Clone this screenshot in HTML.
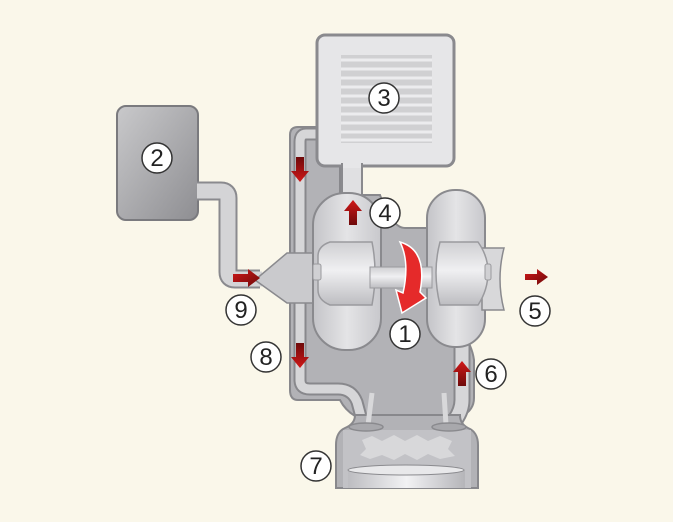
<!DOCTYPE html>
<html><head><meta charset="utf-8"><style>
html,body{margin:0;padding:0;background:#faf7ea;}
svg{display:block;}
text{font-family:"Liberation Sans",sans-serif;font-size:24px;fill:#222;text-anchor:middle;}
</style></head><body>
<svg width="673" height="522" viewBox="0 0 673 522" xmlns="http://www.w3.org/2000/svg">
<defs>
<linearGradient id="g2" x1="0" y1="0" x2="1" y2="1"><stop offset="0" stop-color="#c9c9cb"/><stop offset="1" stop-color="#8e8e92"/></linearGradient>
<linearGradient id="lobe" x1="0" y1="0" x2="1" y2="0"><stop offset="0" stop-color="#c4c4c8"/><stop offset="0.5" stop-color="#e4e4e6"/><stop offset="1" stop-color="#c8c8cc"/></linearGradient>
<linearGradient id="wheel" x1="0" y1="0" x2="0" y2="1"><stop offset="0" stop-color="#cfcfd2"/><stop offset="0.45" stop-color="#f0f0f2"/><stop offset="1" stop-color="#bdbdc1"/></linearGradient>
<linearGradient id="pist" x1="0" y1="0" x2="1" y2="0"><stop offset="0" stop-color="#bdbdc1"/><stop offset="0.5" stop-color="#f2f2f4"/><stop offset="1" stop-color="#b5b5b9"/></linearGradient>
<linearGradient id="red" x1="0" y1="0" x2="1" y2="1"><stop offset="0" stop-color="#d01818"/><stop offset="1" stop-color="#6e0a0a"/></linearGradient>
<linearGradient id="redv" x1="0" y1="0" x2="0" y2="1"><stop offset="0" stop-color="#6e0a0a"/><stop offset="1" stop-color="#d01818"/></linearGradient>
<linearGradient id="redu" x1="0" y1="0" x2="0" y2="1"><stop offset="0" stop-color="#d01818"/><stop offset="1" stop-color="#6e0a0a"/></linearGradient>
</defs>

<rect x="117" y="106" width="81" height="114" rx="9" fill="url(#g2)" stroke="#7a7a7e" stroke-width="2"/>
<path d="M197,191 H221 Q228,191 228,198 V272 Q228,279 235,279 H260" fill="none" stroke="#8a8a8e" stroke-width="19"/>
<path d="M197,191 H221 Q228,191 228,198 V272 Q228,279 235,279 H262" fill="none" stroke="#d4d4d6" stroke-width="15"/>

<path d="M290,135 Q290,127 298,127 H340 V195 H380 Q392,228 405,228 H430 V300 Q470,330 474,360 V398 Q474,410 462,416 H355 Q345,410 340,400 H298 Q290,400 290,390 Z" fill="#b2b2b6" stroke="#88888c" stroke-width="2"/>
<path d="M330,134 H306 Q300,134 300,142 V380 Q300,389 310,389 H338 Q352,389 357,402 L364,428" fill="none" stroke="#88888c" stroke-width="13"/>
<path d="M330,134 H306 Q300,134 300,142 V380 Q300,389 310,389 H338 Q352,389 357,402 L364,428" fill="none" stroke="#d6d6d8" stroke-width="9"/>
<path d="M462,345 V400 Q462,410 455,420 L450,428" fill="none" stroke="#88888c" stroke-width="17"/>
<path d="M462,345 V400 Q462,410 455,420 L450,428" fill="none" stroke="#d6d6d8" stroke-width="13"/>

<rect x="317" y="35" width="137" height="131" rx="8" fill="#e6e6e8" stroke="#8a8a8e" stroke-width="3"/>
<rect x="341" y="55" width="91" height="88" fill="#d0d0d2"/>
<g stroke="#ececee" stroke-width="3">
<line x1="341" y1="60" x2="432" y2="60"/><line x1="341" y1="69" x2="432" y2="69"/><line x1="341" y1="78" x2="432" y2="78"/><line x1="341" y1="87" x2="432" y2="87"/><line x1="341" y1="96" x2="432" y2="96"/><line x1="341" y1="105" x2="432" y2="105"/><line x1="341" y1="114" x2="432" y2="114"/><line x1="341" y1="123" x2="432" y2="123"/><line x1="341" y1="132" x2="432" y2="132"/><line x1="341" y1="140" x2="432" y2="140"/>
</g>
<rect x="342" y="164" width="20" height="36" fill="#e0e0e2" stroke="#8a8a8e" stroke-width="2"/>
<rect x="343" y="162" width="18" height="6" fill="#e6e6e8"/>

<path d="M255,280 L287,253 H318 V303 H287 Z" fill="#cacacd" stroke="#8a8a8e" stroke-width="1.5"/>

<rect x="313" y="193" width="68" height="157" rx="32" fill="url(#lobe)" stroke="#8a8a8e" stroke-width="2"/>
<rect x="427" y="190" width="58" height="157" rx="28" fill="url(#lobe)" stroke="#8a8a8e" stroke-width="2"/>
<path d="M482,248 H504 Q496,279 504,310 H482 Z" fill="#d8d8da" stroke="#8a8a8e" stroke-width="1.5"/>
<path d="M330,242 H372 Q378,272 372,305 H330 Q318,300 318,290 V256 Q318,246 330,242 Z" fill="url(#wheel)" stroke="#9a9a9e" stroke-width="1.5"/>
<path d="M440,242 H478 Q488,256 488,272 Q488,290 478,305 H440 Q432,272 440,242 Z" fill="url(#wheel)" stroke="#9a9a9e" stroke-width="1.5"/>
<rect x="370" y="267" width="62" height="21" fill="url(#wheel)" stroke="#9a9a9e" stroke-width="1"/>
<rect x="313" y="264" width="8" height="16" rx="2" fill="#d0d0d3" stroke="#9a9a9e"/>
<rect x="485" y="264" width="6" height="16" rx="2" fill="#d0d0d3" stroke="#9a9a9e"/>

<path d="M355,415 Q355,424 345,428 Q336,432 336,445 V488 H478 V445 Q478,432 468,428 Q460,424 460,415 Z" fill="#b2b2b6" stroke="#88888c" stroke-width="2"/>
<rect x="343" y="430" width="128" height="58" fill="#c2c2c6"/>
<path d="M362,440 L372,436 L382,441 L394,435 L405,441 L417,435 L428,441 L440,436 L452,441 L448,449 L455,456 L440,459 L428,454 L417,460 L405,454 L394,460 L382,455 L370,459 L360,455 L366,449 Z" fill="#d8d8da"/>
<rect x="348" y="470" width="117" height="18" fill="url(#pist)"/>
<ellipse cx="406" cy="470" rx="58" ry="5" fill="#e8e8ea" stroke="#8a8a8e"/>
<g stroke="#8a8a8e" stroke-width="1.5">
<line x1="372" y1="393" x2="368" y2="425" stroke="#d8d8da" stroke-width="5"/>
<line x1="444" y1="393" x2="446" y2="425" stroke="#d8d8da" stroke-width="5"/>
<ellipse cx="366" cy="427" rx="17" ry="4" fill="#a8a8ac"/>
<ellipse cx="449" cy="427" rx="17" ry="4" fill="#a8a8ac"/>
</g>

<path d="M400,242 Q428,250 420,292 L426,298 L402,313 L396,290 L403,293 Q410,262 400,242 Z" fill="#e52a2a" stroke="#fff" stroke-width="1.5"/>

<path d="M296,157 h8 v14 h5 l-9,11 l-9,-11 h5 z" fill="url(#redv)"/>
<path d="M296,343 h8 v14 h5 l-9,11 l-9,-11 h5 z" fill="url(#redv)"/>
<path d="M349,225 h8 v-14 h5 l-9,-11 l-9,11 h5 z" fill="url(#redu)"/>
<path d="M458,386 h8 v-14 h5 l-9,-11 l-9,11 h5 z" fill="url(#redu)"/>
<path d="M233,274 h15 v-5 l12,9 l-12,9 v-5 h-15 z" fill="url(#red)"/>
<path d="M525,274 h12 v-5 l11,8 l-11,8 v-5 h-12 z" fill="url(#red)"/>

<g fill="#fff" stroke="#333" stroke-width="1.5">
<circle cx="405" cy="334" r="15"/><circle cx="157" cy="158" r="15"/><circle cx="384" cy="98" r="15"/><circle cx="385" cy="213" r="15"/><circle cx="535" cy="311" r="15"/><circle cx="491" cy="374" r="15"/><circle cx="316" cy="466" r="15"/><circle cx="266" cy="357" r="15"/><circle cx="241" cy="310" r="15"/>
</g>
<text x="405" y="342">1</text><text x="157" y="166">2</text><text x="384" y="106">3</text><text x="385" y="221">4</text><text x="535" y="319">5</text><text x="491" y="382">6</text><text x="316" y="474">7</text><text x="266" y="365">8</text><text x="241" y="318">9</text>
</svg>
</body></html>
